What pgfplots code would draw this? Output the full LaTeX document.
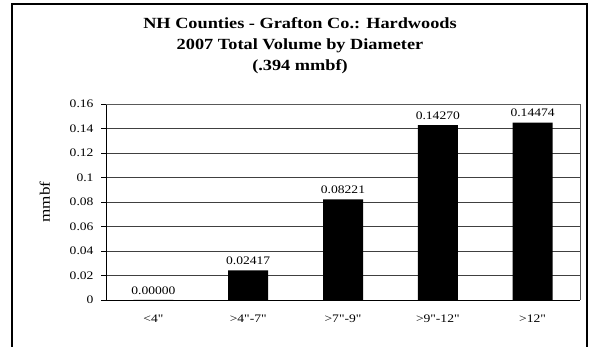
\documentclass[border=0pt]{standalone}
\usepackage{fontspec}
\setmainfont{Liberation Serif}
\newfontfamily\widefont[FakeStretch=1.18]{Liberation Serif}
\usepackage{pgfplots}
\pgfplotsset{compat=1.18}
\begin{document}
\begin{tikzpicture}[x=1pt,y=1pt]
\useasboundingbox (0,0) rectangle (599,347);
\draw[line width=1.5pt] (12,-10) rectangle (587,343);
\node[font=\widefont\bfseries\fontsize{15.5}{21}\selectfont, align=center] at (300,301) {NH Counties - Grafton Co.: Hardwoods\\2007 Total Volume by Diameter\\(.394 mmbf)};
\begin{axis}[
  at={(106pt,47pt)}, anchor=south west,
  width=474pt, height=196pt, scale only axis,
  xmin=-0.5, xmax=4.5, ymin=0, ymax=0.16,
  ytick={0,0.02,0.04,0.06,0.08,0.1,0.12,0.14,0.16},
  yticklabels={0,0.02,0.04,0.06,0.08,0.1,0.12,0.14,0.16},
  scaled y ticks=false,
  xtick={0,1,2,3,4},
  xticklabels={{<4"},{>4"-7"},{>7"-9"},{>9"-12"},{>12"}},
  x tick style={draw=none},
  extra x ticks={-0.5,0.5,1.5,2.5,3.5,4.5},
  extra x tick labels={},
  extra x tick style={tick style={draw=black}, grid=none},
  axis x line*=bottom, axis y line*=left,
  axis line style={-, black, line width=0.9pt},
  tick align=outside, major tick length=5pt,
  tick style={black, line width=0.9pt},
  ytick pos=left, xtick pos=bottom,
  ymajorgrids, grid style={gray!50!black, line width=0.8pt},
  ticklabel style={font=\widefont\fontsize{11.5}{13}\selectfont},
  yticklabel style={xshift=-4pt},
  xticklabel style={yshift=-6pt},
  ylabel={\widefont\fontsize{14.5}{16}\selectfont mmbf},
  ylabel style={at={(axis description cs:-0.129,0.5)}, anchor=center},
  /pgf/number format/assume math mode=true,
  ybar, bar width=40pt,
  nodes near coords,
  every node near coord/.append style={font=\widefont\fontsize{11.5}{13}\selectfont, yshift=2pt},
  /pgf/number format/.cd, fixed, fixed zerofill, precision=5, assume math mode=true,
  /pgfplots/.cd,
  clip=false,
  after end axis/.code={\draw[gray!70!black, line width=0.8pt] (rel axis cs:0,1) -- (rel axis cs:1,1) -- (rel axis cs:1,0);}
]
\addplot[fill=black, draw=none] coordinates {(0,0) (1,0.02417) (2,0.08221) (3,0.14270) (4,0.14474)};
\end{axis}
\end{tikzpicture}
\end{document}
